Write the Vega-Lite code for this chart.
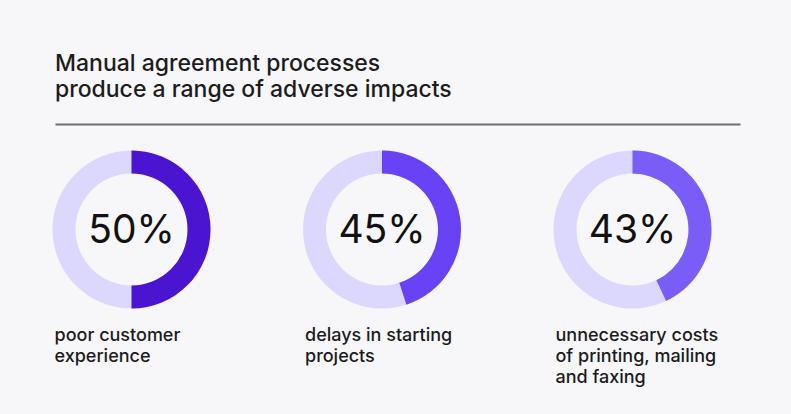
{
  "$schema": "https://vega.github.io/schema/vega-lite/v6.json",
  "width": 685,
  "height": 211,
  "autosize": {"type": "none"},
  "padding": {"left": 55, "top": 124, "right": 51, "bottom": 79},
  "background": "#f7f7f9",
  "title": {
    "text": ["Manual agreement processes", "produce a range of adverse impacts"],
    "anchor": "start",
    "frame": "group",
    "font": "Inter",
    "fontSize": 23,
    "fontWeight": 500,
    "color": "#1c1c1c",
    "lineHeight": 26,
    "offset": 22
  },
  "data": {
    "values": [
      {"item": "poor customer experience", "share": 0.5, "label": "poor customer\nexperience"},
      {"item": "delays in starting projects", "share": 0.45, "label": "delays in starting\nprojects"},
      {"item": "unnecessary costs of printing, mailing and faxing", "share": 0.43, "label": "unnecessary costs\nof printing, mailing\nand faxing"}
    ]
  },
  "encoding": {
    "x": {
      "field": "item",
      "type": "nominal",
      "sort": null,
      "scale": {"type": "point", "padding": 0.3673, "align": 0.4158},
      "axis": {"orient": "top", "labels": false, "ticks": false, "title": null, "grid": false, "domainColor": "#6e6e6e", "domainWidth": 2}
    }
  },
  "layer": [
    {
      "mark": {"type": "arc", "outerRadius": 79, "innerRadius": 56},
      "encoding": {
        "theta": {"datum": 1, "type": "quantitative", "stack": null, "scale": {"domain": [0, 1]}},
        "color": {"value": "#dcd7fc"}
      }
    },
    {
      "mark": {"type": "arc", "outerRadius": 79, "innerRadius": 56},
      "encoding": {
        "theta": {"field": "share", "type": "quantitative", "stack": null, "scale": {"domain": [0, 1]}},
        "color": {"field": "item", "type": "nominal", "sort": null, "scale": {"range": ["#4a14d0", "#6842f5", "#7a5cf6"]}, "legend": null}
      }
    },
    {
      "mark": {"type": "text", "font": "Inter", "fontSize": 39, "fontWeight": 400, "color": "#111111", "align": "center", "baseline": "middle", "dy": 1},
      "encoding": {
        "text": {"field": "share", "type": "quantitative", "format": ".0%"}
      }
    },
    {
      "mark": {"type": "text", "font": "Inter", "fontSize": 18, "fontWeight": 500, "color": "#1c1c1c", "align": "left", "baseline": "alphabetic", "dx": -77, "dy": 111.5, "lineBreak": "\n", "lineHeight": 21},
      "encoding": {
        "text": {"field": "label", "type": "nominal"}
      }
    }
  ],
  "config": {"view": {"stroke": null}}
}
